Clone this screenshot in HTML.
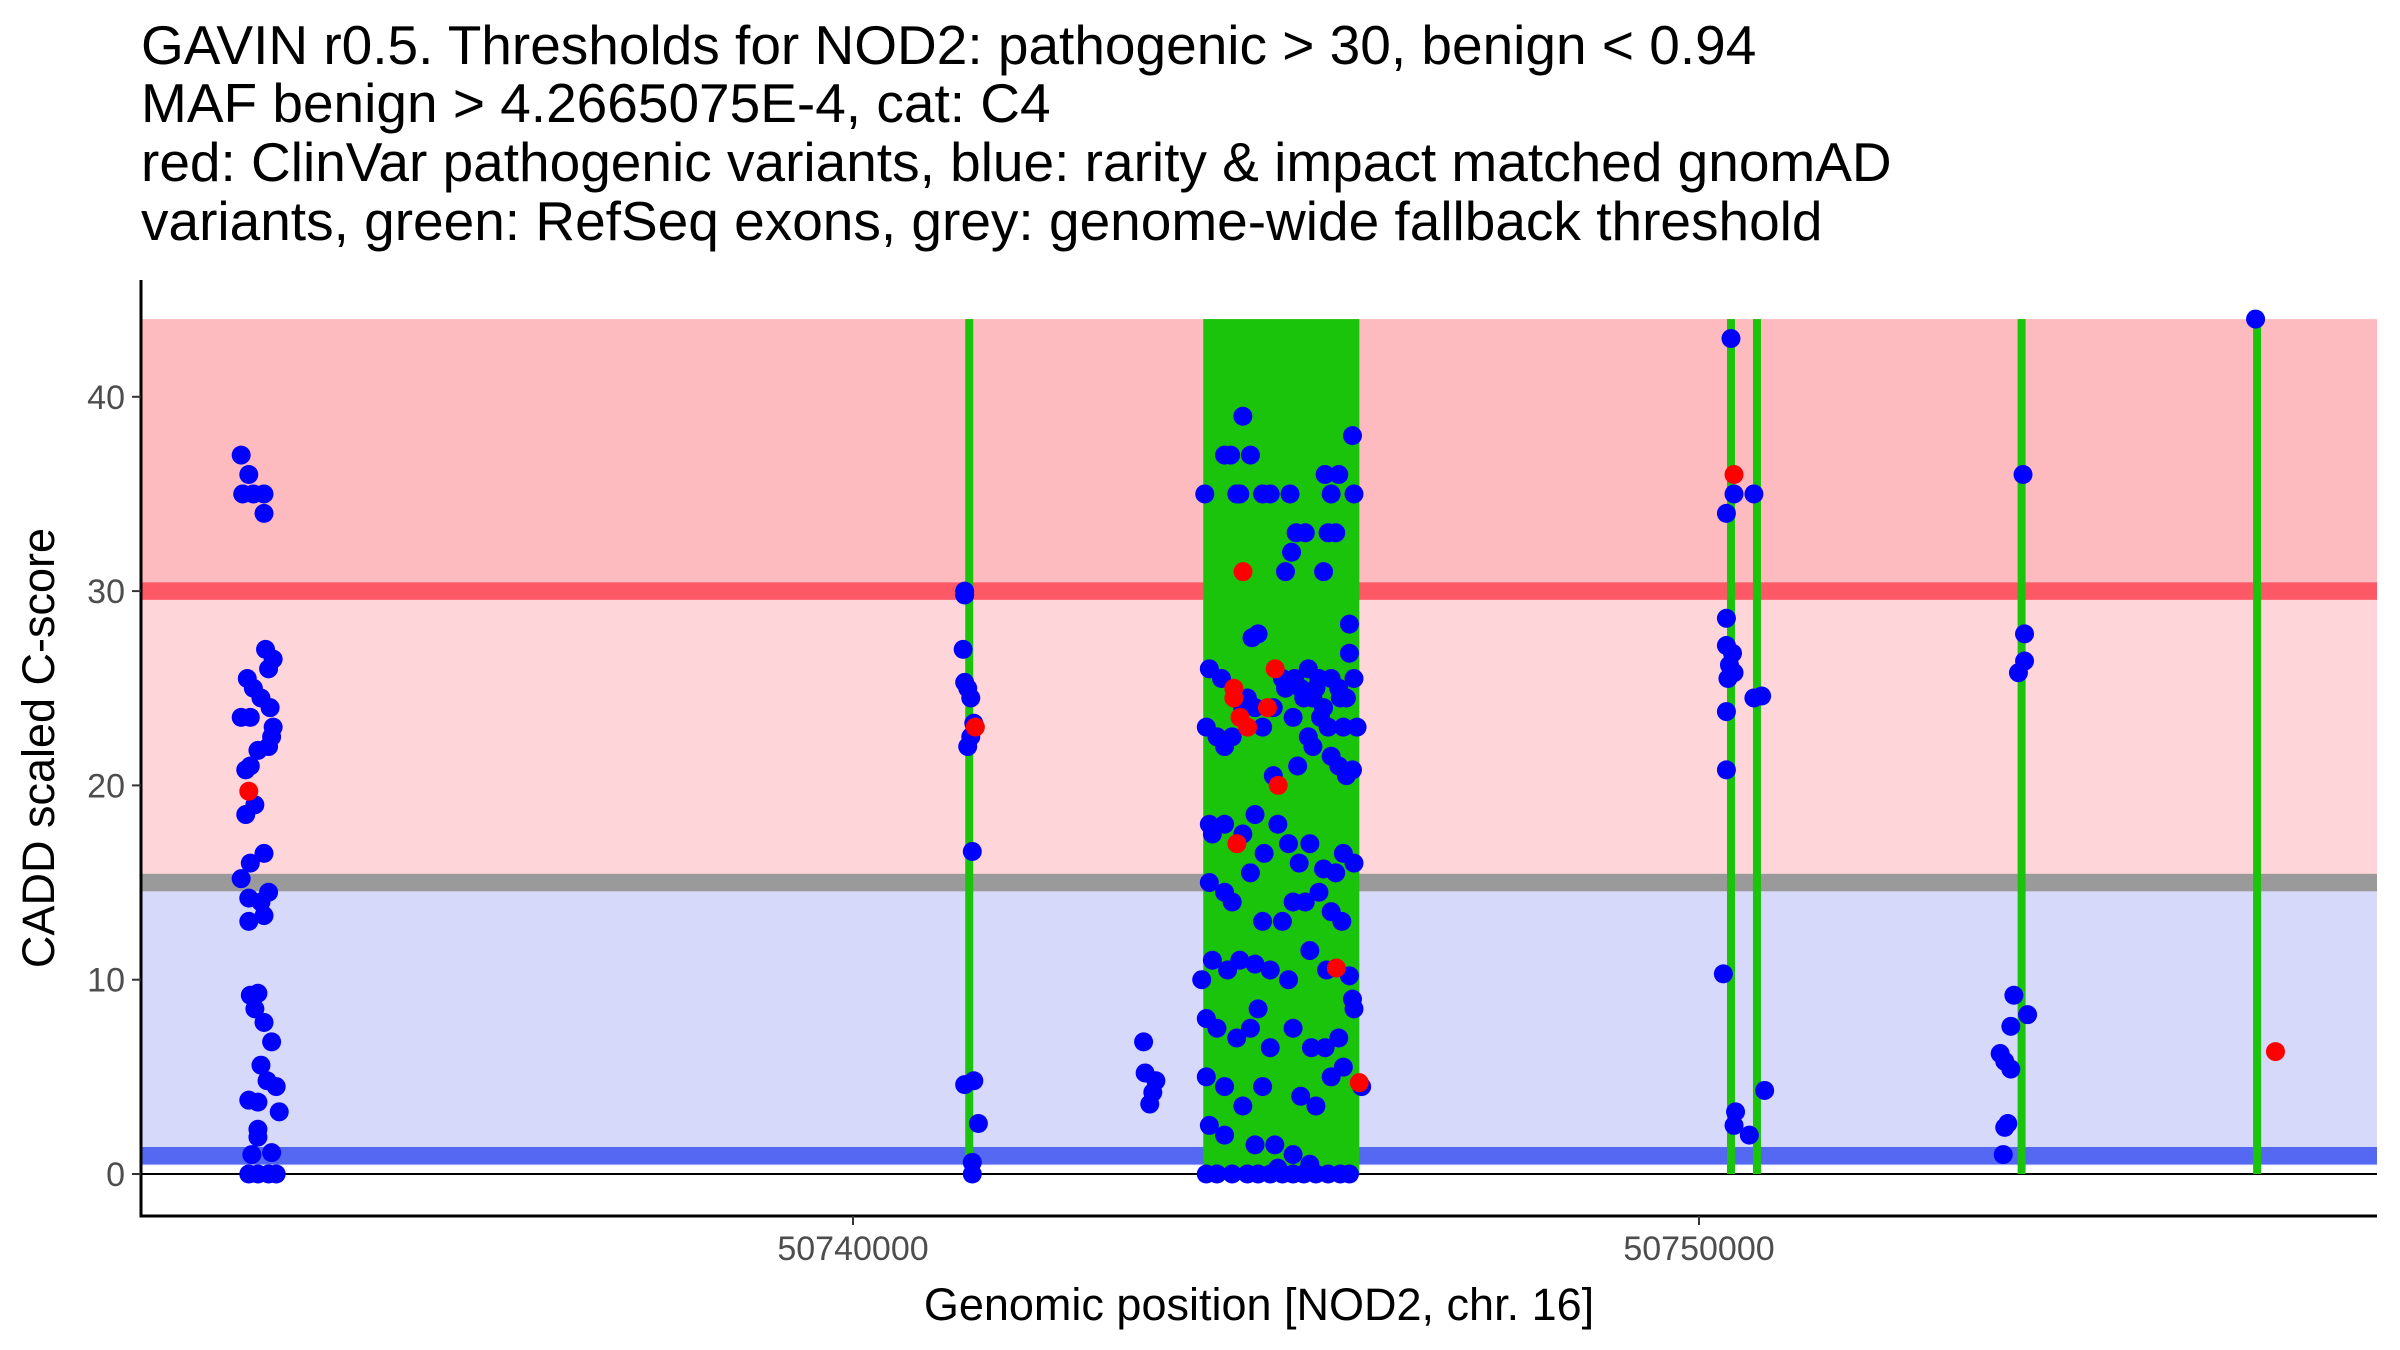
<!DOCTYPE html>
<html><head><meta charset="utf-8"><style>
html,body{margin:0;padding:0;background:#fff}
svg{display:block;font-family:"Liberation Sans",Arial,sans-serif}
</style></head><body>
<svg id="chart" width="2400" height="1350" viewBox="0 0 2400 1350" xmlns="http://www.w3.org/2000/svg">
<g font-size="55" fill="#000">
<text x="141" y="64">GAVIN r0.5. Thresholds for NOD2: pathogenic &gt; 30, benign &lt; 0.94</text>
<text x="141" y="122">MAF benign &gt; 4.2665075E-4, cat: C4</text>
<text x="141" y="181">red: ClinVar pathogenic variants, blue: rarity &amp; impact matched gnomAD</text>
<text x="141" y="240">variants, green: RefSeq exons, grey: genome-wide fallback threshold</text>
</g>
<g id="bands"></g>
<g id="exons"></g>
<g id="points"></g>
<g id="axes"></g>
</svg>
<script>
const NS="http://www.w3.org/2000/svg";
const xTicks=[50740000,50750000];
const xTickLabels=["50740000","50750000"];
const yTicks=[0,10,20,30,40];
const yTickLabels=["0","10","20","30","40"];
const pathoThreshold=30, benignThreshold=0.94, fallbackThreshold=15, scoreMax=44;
const exonStarts=[50744140,50741374,50750378,50750685,50753813,50756597];
const exonEnds=[50745985,50741374,50750378,50750685,50753813,50756597];

const blueX1=[50732768,50732858,50732786,50732912,50733038,50733038,50732840,50732912,50733002,50733092,50733146,50733056,50732768,50732876,50733110,50733146,50733128,50733092,50732966,50732876,50732822,50732930,50732822,50732876,50733038,50732768,50732858,50733002,50733092,50732858,50733038,50732876,50732966,50732930,50733038,50733128,50733002,50733074,50733182,50732858,50732966,50733218,50732966,50732966,50732894,50733128,50732858,50732966,50733092,50733182];
const blueY1=[37,36,35,35,35,34,25.5,25,24.5,26,26.5,27,23.5,23.5,24,23,22.5,22,21.8,21,20.8,19,18.5,16,16.5,15.2,14.2,14,14.5,13,13.3,9.2,9.3,8.5,7.8,6.8,5.6,4.8,4.5,3.8,3.7,3.2,2.3,1.9,1,1.1,0,0,0,0];
const blueX2=[50741320,50741320,50741302,50741320,50741356,50741392,50741428,50741392,50741356,50741410,50741320,50741428,50741482,50741410,50741410];
const blueY2=[30,29.8,27,25.3,25,24.5,23.2,22.5,22,16.6,4.6,4.8,2.6,0.6,0];
const blueX3=[50743435,50743453,50743580,50743544,50743508];
const blueY3=[6.8,5.2,4.8,4.2,3.6];
const blueX4=[50744158,50744392,50744464,50744536,50744698,50744608,50744572,50744842,50744932,50745166,50745238,50745346,50745580,50745742,50745652,50745922,50745616,50745706,50745184,50745112,50745562,50745904,50745868,50744788,50744716,50745868,50744212,50744356,50744608,50744968,50745112,50745220,50745328,50745472,50745562,50745652,50745742,50745832,50745922,50744176,50744302,50744392,50744482,50744752,50745202,50745382,50745526,50745796,50745958,50744968,50745256,50745436,50745652,50745742,50745832,50745904,50744212,50744248,50744392,50744608,50744752,50744860,50745022,50745148,50745274,50745400,50745562,50745706,50745796,50745922,50744212,50744392,50744482,50744698,50744842,50745076,50745202,50745346,50745508,50745652,50745778,50744122,50744248,50744428,50744572,50744752,50744932,50745148,50745400,50745598,50745868,50745904,50744176,50744302,50744536,50744698,50744788,50744932,50745202,50745418,50745580,50745742,50745922,50744176,50744392,50744608,50744842,50745292,50745472,50745652,50745796,50746012,50744212,50744392,50744752,50744986,50745202,50745400,50744176,50744302,50744482,50744662,50744788,50744932,50745076,50745202,50745328,50745472,50745616,50745760,50745868,50745022,50744662,50744842,50745292,50745436,50745616,50745760,50745508,50745076,50745382];
const blueY4=[35,37,37,35,37,39,35,35,35,35,33,33,36,36,35,35,33,33,32,31,31,38,28.3,27.8,27.6,26.8,26,25.5,24,24,25,25.5,24.5,25,24,25.5,25,24.5,25.5,23,22.5,22,22.5,24,23.5,22.5,23.5,23,23,20.5,21,22,21.5,21,20.5,20.8,18,17.5,18,17.5,18.5,16.5,18,17,16,17,15.7,15.5,16.5,16,15,14.5,14,15.5,13,13,14,14,14.5,13.5,13,10,11,10.5,11,10.8,10.5,10,11.5,10.5,10.2,9,8,7.5,7,7.5,8.5,6.5,7.5,6.5,6.5,7,8.5,5,4.5,3.5,4.5,4,3.5,5,5.5,4.5,2.5,2,1.5,1.5,1,0.5,0,0,0,0,0,0,0,0,0,0,0,0,0,0.3,24.5,23,25,24.5,23,24.5,25.5,25.5,26];
const blueX5=[50750378,50750324,50750414,50750649,50750324,50750324,50750396,50750360,50750342,50750414,50750324,50750324,50750649,50750740,50750288,50750432,50750414,50750595,50750776];
const blueY5=[43,34,35,35,28.6,27.2,26.8,26.2,25.5,25.8,23.8,20.8,24.5,24.6,10.3,3.2,2.5,2,4.3];
const blueX6=[50753830,50753848,50753848,50753776,50753722,50753884,50753686,50753560,50753614,50753686,50753650,50753614,50753596,50756579];
const blueY6=[36,27.8,26.4,25.8,9.2,8.2,7.6,6.2,5.8,5.4,2.6,2.4,1,44];
const redX=[50732858,50741446,50744610,50744502,50744502,50744990,50744574,50744664,50744899,50745026,50744538,50745713,50745984,50750414,50756814];
const redY=[19.7,23,31,25,24.5,26,23.5,23,24,20,17,10.6,4.7,36,6.3];

const blueX=[].concat(blueX1,blueX2,blueX3,blueX4,blueX5,blueX6);
const blueY=[].concat(blueY1,blueY2,blueY3,blueY4,blueY5,blueY6);

const X0=141,X1=2377,Y0=1216;
function sx(bp){return 853+(bp-50740000)*0.0846;}
function sy(v){return 1174-v*19.43;}
function mk(tag,attrs,parent){const e=document.createElementNS(NS,tag);for(const k in attrs)e.setAttribute(k,attrs[k]);parent.appendChild(e);return e;}

const bands=document.getElementById('bands');
let r;
r=mk('rect',{x:X0,y:sy(scoreMax),width:X1-X0,height:sy(pathoThreshold)-sy(scoreMax),fill:'#fdbbc0'},bands);


r=mk('rect',{x:X0,y:sy(pathoThreshold),width:X1-X0,height:sy(fallbackThreshold)-sy(pathoThreshold),fill:'#fed6da'},bands);


r=mk('rect',{x:X0,y:sy(fallbackThreshold),width:X1-X0,height:sy(0.45)-sy(fallbackThreshold),fill:'#d7d9fb'},bands);


r=mk('rect',{x:X0,y:sy(pathoThreshold+0.45),width:X1-X0,height:0.9*19.43,fill:'#fc5865'},bands);


r=mk('rect',{x:X0,y:sy(fallbackThreshold+0.45),width:X1-X0,height:0.9*19.43,fill:'#9a9a9a'},bands);


r=mk('rect',{x:X0,y:sy(benignThreshold+0.45),width:X1-X0,height:0.9*19.43,fill:'#5468f2'},bands);


r=mk('line',{x1:X0,x2:X1,y1:sy(0),y2:sy(0),stroke:'#000','stroke-width':2},bands);



const ex=document.getElementById('exons');
for(let i=0;i<exonStarts.length;i++){
  const a=sx(exonStarts[i]),b=sx(exonEnds[i]);
  const w=Math.max(b-a,8);
  const e=mk('rect',{x:(a+b)/2-w/2,y:sy(scoreMax),width:w,height:sy(0)-sy(scoreMax),fill:'#19c40a'},ex);
  
  
}
const pts=document.getElementById('points');
for(let i=0;i<blueX.length;i++){
  const c=mk('circle',{cx:sx(blueX[i]),cy:sy(blueY[i]),r:9.5,fill:'#0000ff'},pts);
  
  
}
for(let i=0;i<redX.length;i++){
  const c=mk('circle',{cx:sx(redX[i]),cy:sy(redY[i]),r:9.5,fill:'#ff0000'},pts);
  
  
}
const ax=document.getElementById('axes');
let a;
a=mk('line',{x1:X0,x2:X0,y1:280,y2:Y0+1.5,stroke:'#000','stroke-width':3},ax);


a=mk('line',{x1:X0-1.5,x2:X1,y1:Y0,y2:Y0,stroke:'#000','stroke-width':3},ax);


for(let i=0;i<yTicks.length;i++){
  const y=sy(yTicks[i]);
  const t=mk('line',{x1:X0-9,x2:X0,y1:y,y2:y,stroke:'#333','stroke-width':2},ax);
  
  
  const l=mk('text',{x:X0-16,y:y+12,'text-anchor':'end','font-size':34,fill:'#4d4d4d'},ax);
  l.textContent=yTickLabels[i];
  
  
}
for(let i=0;i<xTicks.length;i++){
  const x=sx(xTicks[i]);
  const t=mk('line',{x1:x,x2:x,y1:Y0,y2:Y0+9,stroke:'#333','stroke-width':2},ax);
  
  
  const l=mk('text',{x:x,y:Y0+44,'text-anchor':'middle','font-size':34,fill:'#4d4d4d'},ax);
  l.textContent=xTickLabels[i];
  
  
}
a=mk('text',{x:(X0+X1)/2,y:1320,'text-anchor':'middle','font-size':45,fill:'#000'},ax);
a.textContent='Genomic position [NOD2, chr. 16]';


a=mk('text',{x:0,y:0,'text-anchor':'middle','font-size':45,fill:'#000',transform:'translate(54,748) rotate(-90)'},ax);
a.textContent='CADD scaled C-score';


</script>
</body></html>
